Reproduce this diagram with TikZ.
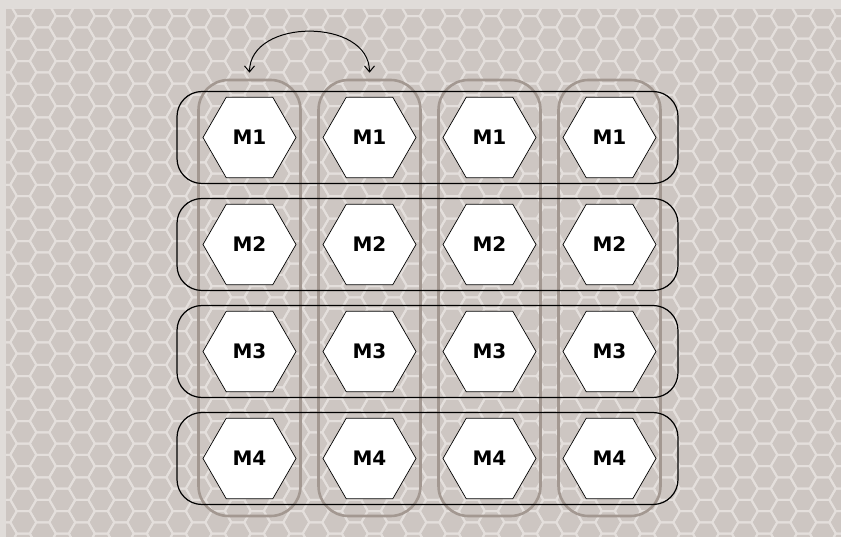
\documentclass[tikz,border=0pt]{standalone}
\usepackage{fontspec}
\setmainfont{DejaVu Sans}
\usetikzlibrary{shapes.geometric,arrows.meta}
\definecolor{pagebg}{RGB}{224,220,217}
\definecolor{cellbg}{RGB}{205,198,194}
\definecolor{cellline}{RGB}{228,223,220}
\definecolor{groupline}{RGB}{163,152,145}
\begin{document}
\begin{tikzpicture}[x=1pt,y=-1pt,
  hex/.style={regular polygon,regular polygon sides=6,draw=black,line width=.7pt,fill=white,
    minimum size=93pt,inner sep=0pt,font=\fontsize{20}{24}\selectfont\bfseries},
  rowbox/.style={draw=black,line width=1.2pt,rounded corners=25pt,minimum width=501pt,minimum height=92pt},
  colbox/.style={draw=groupline,line width=2.6pt,rounded corners=30pt,minimum width=102pt,minimum height=436pt},
  swap/.style={line width=1pt,{Straight Barb[length=6pt,width=10pt]}-{Straight Barb[length=6pt,width=10pt]}}]
\useasboundingbox(0,0)rectangle(841,537);
\fill[pagebg](0,0)rectangle(841,537);
\fill[cellbg](6,9)rectangle(841,537);
% honeycomb
\begin{scope}
\clip(6,9)rectangle(841,537);
\foreach \i in {-1,...,43}
  \foreach \j in {-1,...,23}
    \draw[cellline,line width=2pt]({23.3+19.5*\i},{27.3+22.5*\j-11.25*mod(\i,2)})
      ++(-13,0)--++(6.5,-11.25)--++(13,0)--++(6.5,11.25)--++(-6.5,11.25)--++(-13,0)--cycle;
\end{scope}
% groups
\foreach \c/\x in {1/249.5,2/369.5,3/489.5,4/609.5}
  \node[colbox](col\c)at(\x,298){};
\foreach \r/\y in {1/137.5,2/244.5,3/351.5,4/458.5}
  \node[rowbox](row\r)at(427.5,\y){};
% modules
\foreach \r/\y in {1/137.5,2/244.5,3/351.5,4/458.5}
  \foreach \c/\x in {1/249.5,2/369.5,3/489.5,4/609.5}
    \node[hex](m\r\c)at(\x,\y){M\r};
\draw[swap]([yshift=6pt]col1.north)..controls +(0,-55) and +(0,-55)..([yshift=6pt]col2.north);
\end{tikzpicture}
\end{document}
